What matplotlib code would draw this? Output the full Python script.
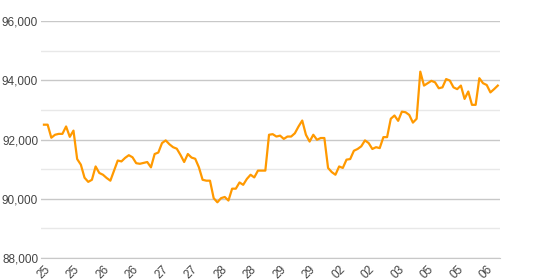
import matplotlib
matplotlib.use("Agg")
import matplotlib.pyplot as plt
from matplotlib.ticker import FuncFormatter, MultipleLocator

plt.rcParams['font.family'] = ['Liberation Sans', 'DejaVu Sans']

# price series, one value per sample
prices = [
    92500, 92500, 92060, 92160, 92190, 92190, 92440, 92090, 92300, 91340,
    91150, 90710, 90570, 90640, 91090, 90870, 90810, 90700, 90610, 90950,
    91290, 91260, 91380, 91470, 91400, 91200, 91180, 91210, 91240, 91060,
    91510, 91560, 91880, 91970, 91840, 91740, 91690, 91480, 91240, 91510,
    91390, 91350, 91060, 90640, 90610, 90610, 90020, 89880, 90020, 90060,
    89940, 90340, 90340, 90550, 90470, 90670, 90810, 90720, 90950, 90950,
    90950, 92160, 92180, 92100, 92130, 92020, 92100, 92100, 92210, 92440,
    92640, 92160, 91930, 92160, 91990, 92050, 92050, 91040, 90900, 90810,
    91090, 91040, 91320, 91340, 91620, 91680, 91770, 91970, 91880, 91680,
    91740, 91710, 92080, 92080, 92700, 92810, 92630, 92940, 92920, 92830,
    92570, 92700, 94290, 93820, 93900, 93980, 93930, 93730, 93760, 94040,
    93990, 93760, 93700, 93820, 93370, 93620, 93170, 93170, 94070, 93900,
    93840, 93590, 93700, 93820,
]
tick_every = 8
tick_labels = ['25', '25', '26', '26', '27', '27', '28', '28',
               '29', '29', '02', '02', '03', '05', '05', '06']

fig = plt.figure(figsize=(5.4, 2.8), dpi=100)
ax = fig.add_axes([41 / 540, 22 / 280, 459 / 540, 237 / 280])

ax.plot(range(len(prices)), prices, color='#ff9900', lw=1.6, solid_joinstyle='round')

ax.set_ylim(88000, 96000)
ax.set_xlim(-0.8, len(prices) - 0.4)
ax.yaxis.set_major_locator(MultipleLocator(2000))
ax.yaxis.set_minor_locator(MultipleLocator(1000))
ax.yaxis.set_major_formatter(FuncFormatter(lambda v, p: f'{int(v):,}'))
ax.grid(axis='y', which='major', color='#c8c8c8', lw=1)
ax.grid(axis='y', which='minor', color='#e8e8e8', lw=1)
ax.set_axisbelow(True)

ax.set_xticks([i * tick_every for i in range(len(tick_labels))])
ax.set_xticklabels(tick_labels, rotation=45, ha='right', rotation_mode='anchor')

for s in ['top', 'right', 'left']:
    ax.spines[s].set_visible(False)
ax.spines['bottom'].set_color('#c8c8c8')
ax.tick_params(axis='both', which='both', length=0, labelsize=8.5, colors='#444444')
ax.tick_params(axis='y', pad=2)
ax.tick_params(axis='x', pad=4)

fig.savefig('out.png', dpi=100)
